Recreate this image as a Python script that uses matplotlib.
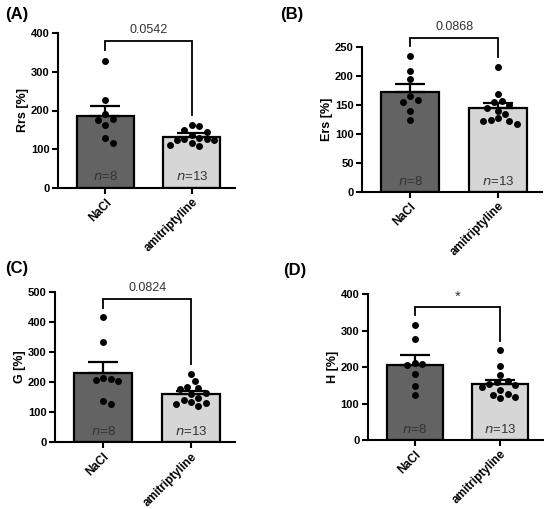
import numpy as np
import matplotlib
matplotlib.use("Agg")
import matplotlib.pyplot as plt
from matplotlib.transforms import blended_transform_factory

plt.rcParams['font.family'] = ['Liberation Sans', 'DejaVu Sans']

# ---------------- data ----------------
groups = ["NaCl", "amitriptyline"]
n_labels = ["8", "13"]
panel_letters = ["(A)", "(B)", "(C)", "(D)"]
ylabels = ["Rrs [%]", "Ers [%]", "G [%]", "H [%]"]
ymaxes = [400, 250, 500, 400]
yticks_steps = [100, 50, 100, 100]
p_labels = ["0.0542", "0.0868", "0.0824", "*"]

# bar means and SEM
means_nacl = [187, 172, 229, 207]
means_ami = [132, 144, 159, 153]
sem_nacl = [25, 14, 38, 25]
sem_ami = [9, 9, 11, 12]

# individual points
rrs_nacl = [329, 227, 190, 178, 176, 163, 130, 116]
rrs_ami = [163, 160, 150, 145, 137, 130, 127, 126, 125, 124, 116, 112, 108]
ers_nacl = [235, 208, 194, 166, 158, 156, 140, 125]
ers_ami = [216, 169, 157, 155, 150, 145, 140, 135, 127, 125, 123, 122, 117]
g_nacl = [415, 333, 215, 210, 207, 202, 138, 126]
g_ami = [226, 202, 183, 180, 178, 165, 160, 148, 142, 135, 130, 128, 120]
h_nacl = [316, 277, 212, 208, 205, 182, 147, 124]
h_ami = [247, 202, 178, 162, 158, 155, 150, 145, 137, 125, 123, 118, 115]

points_nacl = [rrs_nacl, ers_nacl, g_nacl, h_nacl]
points_ami = [rrs_ami, ers_ami, g_ami, h_ami]

# ---------------- layout (pixels) ----------------
W, H = 550, 509
# left, right, top, bottom in pixels
boxes = [(58, 235, 33, 188), (362, 542, 47, 192),
         (55, 235, 291.7, 442.3), (367.7, 543, 294.3, 440)]
letter_pos = [(5, 15), (280, 15), (5, 268), (283, 270)]

bar_colors = ["#636363", "#d6d6d6"]
XL = (-0.55, 1.5)
BW = 0.66

fig = plt.figure(figsize=(W / 100, H / 100), dpi=100)


def swarm(vals, px_per_unit_y, px_per_unit_x, d=7.4):
    vals = np.asarray(vals, float)
    order = np.argsort(-vals)
    placed = []
    xs = np.zeros(len(vals))
    for i in order:
        y = vals[i] * px_per_unit_y
        cand = [0.0]
        for k in range(1, 12):
            cand += [k * d / 2, -k * d / 2]
        for c in cand:
            ok = True
            for (px, py) in placed:
                if (c - px) ** 2 + (y - py) ** 2 < d * d * 0.98:
                    ok = False
                    break
            if ok:
                placed.append((c, y))
                xs[i] = c / px_per_unit_x
                break
    return xs


for k in range(4):
    l, r, t, b = boxes[k]
    ax = fig.add_axes([l / W, (H - b) / H, (r - l) / W, (b - t) / H])
    ymax = ymaxes[k]
    ax.set_xlim(*XL)
    ax.set_ylim(0, ymax)
    pxy = (b - t) / ymax
    pxx = (r - l) / (XL[1] - XL[0])

    means = [means_nacl[k], means_ami[k]]
    sems = [sem_nacl[k], sem_ami[k]]
    pts = [points_nacl[k], points_ami[k]]
    for j in range(2):
        ax.bar(j, means[j], width=BW, color=bar_colors[j], edgecolor="black",
               linewidth=1.6, zorder=2)
        ax.errorbar(j, means[j], yerr=[[0], [sems[j]]], fmt="none", ecolor="black",
                    elinewidth=1.6, capsize=11, capthick=1.6, zorder=3)
        xs = swarm(pts[j], pxy, pxx)
        ax.plot(j + xs, pts[j], "o", color="black", markersize=5,
                markeredgewidth=0, zorder=4, clip_on=False)
        trans = blended_transform_factory(ax.transData, ax.transAxes)
        ax.text(j, 0.075, r"$\it{n}$=" + n_labels[j], transform=trans, ha="center",
                va="center", fontsize=9.5, color="#333333", zorder=5)

    # significance bracket
    leg_l = max(points_nacl[k]) + 0.065 * ymax
    leg_r = max(points_ami[k]) + 0.065 * ymax
    top = max(leg_l, leg_r) + 0.058 * ymax
    ax.plot([0, 0, 1, 1], [leg_l, top, top, leg_r], color="black", lw=1.3,
            clip_on=False, zorder=5, solid_joinstyle="miter")
    if p_labels[k] == "*":
        ax.text(0.5, top + 0.02 * ymax, p_labels[k], ha="center", va="bottom",
                fontsize=11, color="#333333")
    else:
        ax.text(0.5, top + 0.035 * ymax, p_labels[k], ha="center", va="bottom",
                fontsize=9, color="#333333")

    ax.spines["top"].set_visible(False)
    ax.spines["right"].set_visible(False)
    for s in ("left", "bottom"):
        ax.spines[s].set_linewidth(1.5)
    ax.set_yticks(np.arange(0, ymax + 1, yticks_steps[k]))
    ax.set_xticks([0, 1])
    ax.set_xticklabels(groups, rotation=45, ha="right", rotation_mode="anchor",
                       fontsize=8.5, fontweight="bold")
    ax.tick_params(axis="both", width=1.5, length=4, direction="out", pad=2)
    for lab in ax.get_yticklabels():
        lab.set_fontweight("bold")
        lab.set_fontsize(8)
    ax.set_ylabel(ylabels[k], fontsize=9, fontweight="bold", labelpad=1.5)
    ax.patch.set_alpha(0)

    lx, ly = letter_pos[k]
    fig.text(lx / W, 1 - ly / H, panel_letters[k], fontsize=12, fontweight="bold",
             ha="left", va="center")

fig.savefig("out.png", dpi=100)
